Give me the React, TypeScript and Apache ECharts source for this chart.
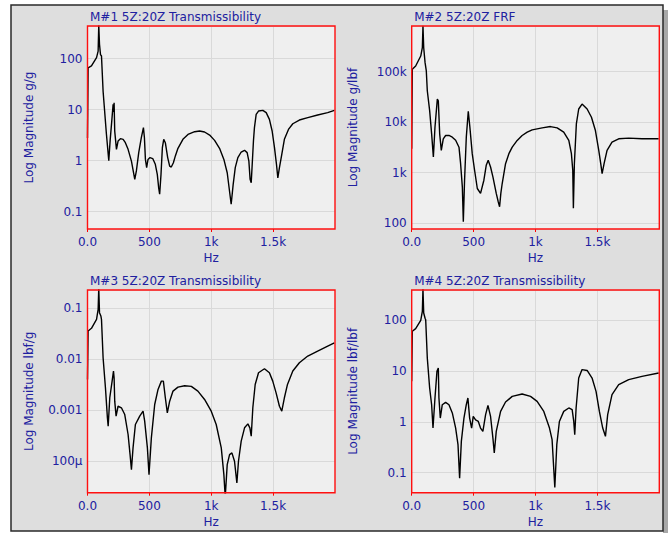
import React, { useEffect, useRef } from "react";
import * as echarts from "echarts";

// ---- Data ----
const titles = [
  "M#1 5Z:20Z Transmissibility",
  "M#2 5Z:20Z FRF",
  "M#3 5Z:20Z Transmissibility",
  "M#4 5Z:20Z Transmissibility",
];
const yNames = [
  "Log Magnitude g/g",
  "Log Magnitude g/lbf",
  "Log Magnitude lbf/g",
  "Log Magnitude lbf/lbf",
];
const yMins = [0.0458, 77.2, 0.0000242, 0.0404];
const yMaxs = [437, 796000, 0.2285, 395];
const xTicks = [0, 500, 1000, 1500, 2000];

const m1Hz = [0, 5, 32, 73, 86, 91, 97, 105, 113, 126, 153, 172, 183, 194, 207, 212, 215, 220, 234, 247, 266, 288, 306, 328, 355, 382, 395, 414, 435, 452, 460, 468, 478, 489, 505, 527, 548, 564, 575, 583, 594, 605, 616, 629, 648, 664, 677, 694, 710, 731, 771, 812, 866, 906, 946, 987, 1027, 1067, 1102, 1129, 1161, 1177, 1194, 1215, 1242, 1269, 1290, 1304, 1314, 1323, 1331, 1341, 1349, 1363, 1382, 1417, 1444, 1470, 1492, 1511, 1527, 1538, 1551, 1570, 1591, 1624, 1659, 1712, 1780, 1860, 1941, 1995];
const m1Mag = [2.8, 66, 72, 105, 141, 450, 191, 120, 113, 23, 3.3, 1.0, 2.5, 5.2, 12.7, 9, 13.7, 3.8, 1.67, 2.43, 2.7, 2.62, 2.25, 1.67, 0.98, 0.43, 0.63, 1.44, 2.82, 4.44, 2.82, 1.06, 0.73, 1.06, 1.15, 1.1, 0.85, 0.54, 0.296, 0.22, 0.54, 1.8, 2.62, 2.25, 1.15, 0.785, 0.75, 0.91, 1.24, 1.75, 2.62, 3.28, 3.7, 3.82, 3.65, 3.18, 2.5, 1.75, 1.06, 0.58, 0.14, 0.34, 0.73, 1.15, 1.48, 1.6, 1.44, 0.98, 0.43, 0.37, 0.85, 2.43, 4.44, 8.1, 9.4, 9.7, 8.74, 6.46, 3.82, 1.8, 0.85, 0.46, 0.73, 1.33, 2.62, 4.1, 5.3, 6.27, 6.97, 7.86, 8.74, 9.7];

const m2Hz = [0, 5, 32, 73, 86, 91, 97, 108, 118, 126, 145, 161, 175, 188, 207, 215, 226, 239, 255, 274, 301, 328, 355, 382, 395, 409, 417, 427, 441, 457, 470, 489, 508, 530, 556, 583, 602, 618, 637, 656, 683, 699, 710, 720, 731, 758, 785, 812, 852, 892, 933, 973, 1054, 1121, 1175, 1228, 1269, 1290, 1301, 1306, 1314, 1330, 1349, 1376, 1417, 1452, 1484, 1511, 1527, 1538, 1554, 1578, 1618, 1672, 1753, 1860, 1995];
const m2Mag = [2980, 111000, 129000, 203000, 296000, 800000, 296000, 150000, 103000, 41700, 16900, 5870, 2040, 7940, 28600, 26500, 5870, 2760, 4690, 5450, 5450, 5050, 4400, 3200, 1510, 526, 107, 711, 5050, 16400, 7940, 2380, 1120, 488, 390, 711, 1400, 1760, 1300, 826, 390, 267, 213, 390, 612, 1510, 2380, 3210, 4350, 5450, 6330, 7040, 7700, 8180, 7700, 6330, 4350, 2380, 1120, 199, 1510, 9230, 18200, 22800, 18200, 12500, 6830, 2760, 1510, 962, 1510, 2760, 4030, 4690, 4830, 4690, 4690];

const m3Hz = [0, 5, 32, 73, 86, 91, 97, 108, 113, 126, 145, 161, 167, 180, 199, 210, 215, 220, 231, 247, 274, 301, 328, 344, 355, 368, 387, 422, 449, 462, 484, 497, 516, 543, 570, 597, 613, 629, 645, 664, 691, 731, 785, 839, 892, 946, 1000, 1040, 1081, 1102, 1113, 1129, 1148, 1167, 1188, 1207, 1220, 1242, 1269, 1296, 1312, 1323, 1336, 1355, 1382, 1430, 1470, 1497, 1524, 1551, 1570, 1591, 1616, 1659, 1712, 1780, 1860, 1941, 1995];
const m3Mag = [0.00403, 0.0359, 0.0405, 0.0608, 0.0955, 0.25, 0.0822, 0.0707, 0.0608, 0.0107, 0.00276, 0.000711, 0.000488, 0.00176, 0.00373, 0.00588, 0.00434, 0.00151, 0.000767, 0.0012, 0.00112, 0.000826, 0.000335, 0.000135, 0.0000687, 0.000183, 0.000526, 0.000767, 0.000962, 0.000612, 0.000183, 0.0000548, 0.000288, 0.0013, 0.00256, 0.00373, 0.00373, 0.00176, 0.000891, 0.00151, 0.00238, 0.00285, 0.00303, 0.00294, 0.00238, 0.00163, 0.000962, 0.000526, 0.000183, 0.0000548, 0.00002, 0.0000861, 0.000135, 0.000146, 0.0001, 0.0000376, 0.0001, 0.000248, 0.000453, 0.000542, 0.000453, 0.00031, 0.00112, 0.00321, 0.00544, 0.00653, 0.00544, 0.00373, 0.0022, 0.0012, 0.000962, 0.00176, 0.00321, 0.00588, 0.00857, 0.0116, 0.0145, 0.0182, 0.0211];

const m4Hz = [0, 5, 32, 73, 86, 91, 97, 108, 113, 126, 145, 161, 172, 188, 204, 215, 220, 231, 247, 274, 301, 328, 355, 374, 387, 401, 422, 441, 454, 468, 484, 497, 516, 538, 556, 575, 597, 616, 637, 656, 667, 683, 718, 758, 812, 892, 960, 1013, 1067, 1113, 1134, 1156, 1172, 1193, 1228, 1269, 1296, 1309, 1317, 1328, 1349, 1376, 1417, 1457, 1489, 1516, 1543, 1565, 1583, 1618, 1672, 1753, 1860, 1995];
const m4Mag = [6.3, 60.7, 68.5, 100, 150, 420, 139, 110, 103, 18.1, 4.65, 2.18, 0.757, 2.95, 9.9, 11.5, 2.95, 1.19, 2.18, 2.43, 2.18, 1.5, 0.757, 0.356, 0.078, 0.414, 1.19, 2.18, 2.95, 1.19, 0.757, 1.28, 1.1, 1.02, 0.757, 0.65, 1.39, 2.12, 1.28, 0.48, 0.244, 0.65, 1.61, 2.46, 3.18, 3.54, 3.18, 2.54, 1.61, 0.757, 0.446, 0.051, 0.356, 1.02, 1.61, 1.88, 1.74, 1.02, 0.56, 1.88, 7.31, 10.7, 10.3, 7.31, 3.99, 1.61, 0.757, 0.52, 1.39, 3.43, 5.41, 6.78, 7.89, 9.2];

const seriesHz = [m1Hz, m2Hz, m3Hz, m4Hz];
const seriesMag = [m1Mag, m2Mag, m3Mag, m4Mag];

// ---- Styling / layout ----
const BLUE = "#2020a0";
const FONT = "DejaVu Sans";
const grids = [
  { left: 87.5, top: 26, width: 247.5, height: 203 },
  { left: 411.7, top: 26, width: 247.6, height: 203 },
  { left: 87.5, top: 290, width: 247.5, height: 202.7 },
  { left: 411.7, top: 290, width: 247.6, height: 202.7 },
];

const fmtX = (v: number) => (v === 0 ? "0.0" : v >= 1000 ? `${v / 1000}k` : `${v}`);
const fmtY = (v: number) => {
  const r = Number(v.toPrecision(3));
  if (r >= 1000) return `${Math.round(r / 1000)}k`;
  if (r < 0.001) return `${Math.round(r * 1e6)}µ`;
  return `${r}`;
};

export default function App() {
  const ref = useRef<HTMLDivElement>(null);
  useEffect(() => {
    if (!ref.current) return;
    const chart = echarts.init(ref.current, undefined, { renderer: "svg" });
    const option: any = {
      animation: false,
      backgroundColor: "#ffffff",
      graphic: [
        { type: "rect", z: -10, shape: { x: 663, y: 10, width: 5, height: 523 }, style: { fill: "#a8a8a8" } },
        { type: "rect", z: -9, shape: { x: 11, y: 5, width: 652, height: 526 }, style: { fill: "#dedede", stroke: "#2a2a2a", lineWidth: 1.5 } },
        ...grids.map((g) => ({
          type: "rect",
          z: 100,
          silent: true,
          shape: { x: g.left, y: g.top, width: g.width, height: g.height },
          style: { fill: "none", stroke: "#ff1010", lineWidth: 1.4 },
        })),
        ...titles.map((t, i) => ({
          type: "text",
          z: 5,
          x: grids[i].left + 2.5,
          y: grids[i].top - 9.5,
          style: { text: t, fill: BLUE, fontSize: 12, fontFamily: FONT, verticalAlign: "middle", align: "left" },
        })),
      ],
      grid: grids.map((g) => ({ ...g, show: true, backgroundColor: "#efefef", borderColor: "#ff0000", borderWidth: 0, containLabel: false })),
      xAxis: grids.map((_, i) => ({
        type: "value",
        gridIndex: i,
        min: xTicks[0],
        max: xTicks[xTicks.length - 1],
        interval: 500,
        axisLine: { show: false },
        axisTick: { show: true, length: 3, lineStyle: { color: "#ff0000" } },
        axisLabel: { color: BLUE, fontSize: 12, fontFamily: FONT, margin: 7, formatter: fmtX, showMaxLabel: false },
        splitLine: { show: true, lineStyle: { color: "#d9d9d9", width: 1 } },
        name: "Hz",
        nameLocation: "middle",
        nameGap: 23,
        nameTextStyle: { color: BLUE, fontSize: 12, fontFamily: FONT },
      })),
      yAxis: grids.map((_, i) => ({
        type: "log",
        logBase: 10,
        gridIndex: i,
        min: yMins[i],
        max: yMaxs[i],
        axisLine: { show: false },
        axisTick: { show: false },
        axisLabel: { color: BLUE, fontSize: 12, fontFamily: FONT, margin: 5, formatter: fmtY, showMinLabel: false, showMaxLabel: false },
        splitLine: { show: true, lineStyle: { color: "#d9d9d9", width: 1 } },
        name: yNames[i],
        nameLocation: "middle",
        nameGap: 53,
        nameTextStyle: { color: BLUE, fontSize: 12, fontFamily: FONT },
      })),
      series: seriesHz.map((hz, i) => ({
        type: "line",
        xAxisIndex: i,
        yAxisIndex: i,
        showSymbol: false,
        symbol: "none",
        clip: true,
        lineStyle: { color: "#000000", width: 1.4 },
        data: hz.map((h, k) => [h, seriesMag[i][k]]),
      })),
    };
    chart.setOption(option);
    return () => chart.dispose();
  }, []);
  return <div ref={ref} style={{ position: "absolute", left: 0, top: 0, width: 668, height: 533 }} />;
}
